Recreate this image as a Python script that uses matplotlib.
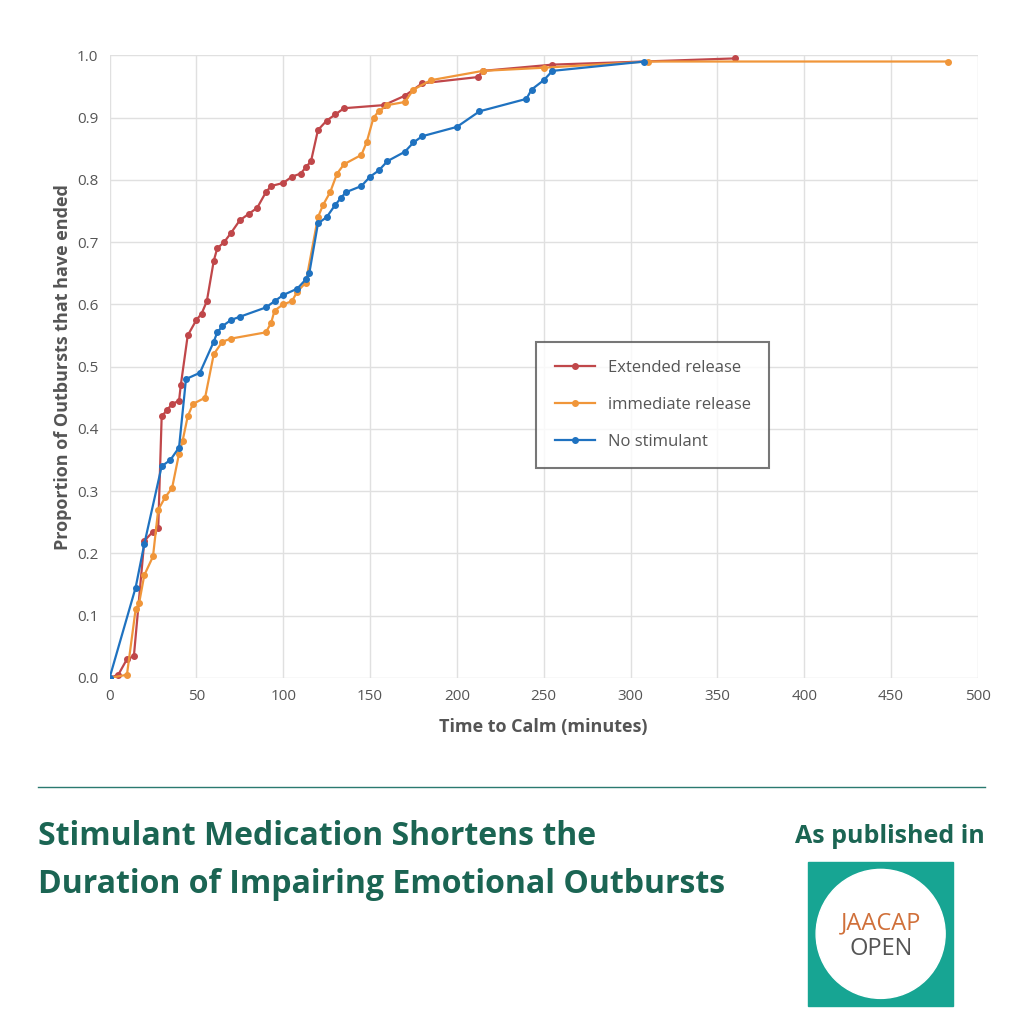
import matplotlib
matplotlib.use("Agg")
import matplotlib.pyplot as plt
from matplotlib.patches import Rectangle, Circle

ext_x = [0,5,10,14,20,25,28,30,33,36,40,41,45,50,53,56,60,62,66,70,75,80,85,90,93,100,105,110,113,116,120,125,130,135,158,170,180,212,215,255,360]
ext_y = [0,0.005,0.03,0.035,0.22,0.235,0.24,0.42,0.43,0.44,0.445,0.47,0.55,0.575,0.585,0.605,0.67,0.69,0.70,0.715,0.735,0.745,0.755,0.78,0.79,0.795,0.805,0.81,0.82,0.83,0.88,0.895,0.905,0.915,0.92,0.935,0.955,0.965,0.975,0.985,0.995]
imm_x = [0,10,15,17,20,25,28,32,36,40,42,45,48,55,60,65,70,90,93,95,100,105,108,113,120,123,127,131,135,145,148,152,155,160,170,175,185,215,250,310,483]
imm_y = [0,0.005,0.11,0.12,0.165,0.195,0.27,0.29,0.305,0.36,0.38,0.42,0.44,0.45,0.52,0.54,0.545,0.555,0.57,0.59,0.60,0.605,0.62,0.635,0.74,0.76,0.78,0.81,0.825,0.84,0.86,0.9,0.91,0.92,0.925,0.945,0.96,0.975,0.98,0.99,0.99]
no_x = [0,15,20,30,35,40,44,52,60,62,65,70,75,90,95,100,108,113,115,120,125,130,133,136,145,150,155,160,170,175,180,200,213,240,243,250,255,308]
no_y = [0,0.145,0.215,0.34,0.35,0.37,0.48,0.49,0.54,0.555,0.565,0.575,0.58,0.595,0.605,0.615,0.625,0.64,0.65,0.73,0.74,0.76,0.77,0.78,0.79,0.805,0.815,0.83,0.845,0.86,0.87,0.885,0.91,0.93,0.945,0.96,0.975,0.99]

plt.rcParams['font.family'] = ['Open Sans', 'DejaVu Sans']
fig = plt.figure(figsize=(10.24, 10.24), dpi=100)
ax = fig.add_axes([0.107, 0.338, 0.848, 0.608])
kw = dict(marker='o', markersize=4, linewidth=1.6)
ax.plot(ext_x, ext_y, color='#c0474a', label='Extended release', **kw)
ax.plot(imm_x, imm_y, color='#f0963a', label='immediate release', **kw)
ax.plot(no_x, no_y, color='#1f72c0', label='No stimulant', **kw)
ax.set_xlim(0, 500); ax.set_ylim(0, 1.0)
ax.set_xticks(range(0, 501, 50)); ax.set_yticks([i/10 for i in range(11)])
ax.set_yticklabels([f"{i/10:.1f}" for i in range(11)])
ax.grid(True, color='#e0e0e0', linewidth=1)
for s in ax.spines.values(): s.set_visible(False)
ax.tick_params(length=0, labelsize=11, colors='#555555', pad=8)
ax.set_xlabel('Time to Calm (minutes)', fontsize=13, color='#555555', fontweight='bold', labelpad=10)
ax.set_ylabel('Proportion of Outbursts that have ended', fontsize=13, color='#555555', fontweight='bold')
leg = ax.legend(loc='upper left', bbox_to_anchor=(0.482, 0.553), fontsize=12, frameon=True,
                fancybox=False, edgecolor='#555555', labelspacing=1.25, borderpad=1.1, handlelength=2.4)
leg.get_frame().set_linewidth(1.5)
for t in leg.get_texts(): t.set_color('#555555')

fig.add_artist(plt.Line2D([0.037, 0.962], [0.231, 0.231], color='#2a7a70', linewidth=1))
tc = '#1b6553'
fig.text(0.037, 0.175, 'Stimulant Medication Shortens the', fontsize=23, fontweight='bold', color=tc)
fig.text(0.037, 0.128, 'Duration of Impairing Emotional Outbursts', fontsize=23, fontweight='bold', color=tc)
fig.text(0.962, 0.177, 'As published in', fontsize=18, fontweight='bold', color=tc, ha='right')
fig.add_artist(Rectangle((0.789, 0.018), 0.142, 0.140, color='#17a593', transform=fig.transFigure))
fig.add_artist(Circle((0.860, 0.088), 0.063, color='white', transform=fig.transFigure))
fig.text(0.860, 0.098, 'JAACAP', fontsize=17, color='#d0703a', ha='center', va='center')
fig.text(0.860, 0.073, 'OPEN', fontsize=17, color='#555555', ha='center', va='center')
fig.savefig('out.png', dpi=100)
